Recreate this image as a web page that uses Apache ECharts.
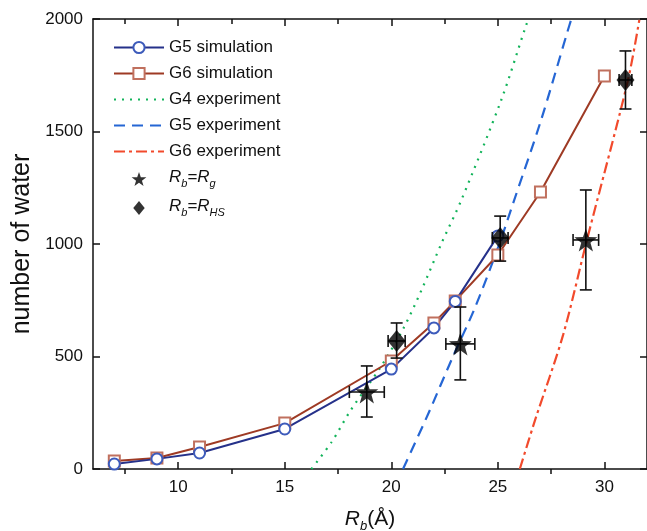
<!DOCTYPE html>
<html>
<head>
<meta charset="utf-8">
<script src="https://cdn.jsdelivr.net/npm/echarts@6/dist/echarts.min.js"></script>
<style>
  html, body { margin: 0; padding: 0; background: #fff; }
  #chart { width: 647px; height: 531px; }
</style>
</head>
<body>
<div id="chart"></div>
<script>
// simulation curves
const g5SimX = [7, 9, 11, 15, 20, 22, 23, 25];
const g5SimY = [22, 45, 71, 178, 444, 627, 745, 1036];
const g6SimX = [7, 9, 11, 15, 20, 22, 23, 25, 27, 30];
const g6SimY = [36, 49, 98, 204, 480, 649, 747, 951, 1231, 1747];

// experiment curves
const g4ExpX = [16.25, 17.2, 18.1, 19.5, 20.58, 21.42, 22.36, 23.29, 25.16, 26.33, 26.45];
const g4ExpY = [0, 120, 262, 453, 627, 796, 1004, 1196, 1640, 1973, 2000];
const g5ExpX = [20.55, 21.75, 22.82, 23.94, 25.02, 25.72, 27.03, 28.29, 28.45];
const g5ExpY = [0, 249, 484, 720, 987, 1182, 1551, 1951, 2000];
const g6ExpX = [26.03, 26.75, 28.06, 29.2, 31.09, 31.64];
const g6ExpY = [0, 218, 595, 1025, 1721, 1996];

// Rb = Rg points with error bars
const rgX = [18.85, 23.24, 29.13];
const rgY = [342, 556, 1018];
const rgXErr = [0.82, 0.68, 0.6];
const rgYLo = [231, 396, 796];
const rgYHi = [458, 720, 1240];

// Rb = RHS points with error bars
const rhsX = [20.25, 25.11, 30.99];
const rhsY = [569, 1027, 1729];
const rhsXErr = [0.4, 0.37, 0.3];
const rhsYLo = [493, 924, 1600];
const rhsYHi = [649, 1124, 1858];

const xTicks = [10, 15, 20, 25, 30];
const xMinorTicks = [7.5, 12.5, 17.5, 22.5, 27.5];
const yTicks = [0, 500, 1000, 1500, 2000];

const FONT = 'Liberation Sans';
const zip = (xs, ys) => xs.map((x, i) => [x, ys[i]]);

const errData = [
  ...rgX.map((x, i) => [x, rgY[i], rgXErr[i], rgYLo[i], rgYHi[i]]),
  ...rhsX.map((x, i) => [x, rhsY[i], rhsXErr[i], rhsYLo[i], rhsYHi[i]])
];

const renderErr = (params, api) => {
  const x = api.value(0), y = api.value(1), xe = api.value(2);
  const lo = api.coord([x, api.value(3)]);
  const hi = api.coord([x, api.value(4)]);
  const l = api.coord([x - xe, y]);
  const r = api.coord([x + xe, y]);
  const c = 6;
  const st = { stroke: '#111', lineWidth: 1.6 };
  const seg = (x1, y1, x2, y2) => ({ type: 'line', shape: { x1, y1, x2, y2 }, style: st });
  return {
    type: 'group',
    children: [
      seg(lo[0], lo[1], hi[0], hi[1]),
      seg(lo[0] - c, lo[1], lo[0] + c, lo[1]),
      seg(hi[0] - c, hi[1], hi[0] + c, hi[1]),
      seg(l[0], l[1], r[0], r[1]),
      seg(l[0], l[1] - c, l[0], l[1] + c),
      seg(r[0], r[1] - c, r[0], r[1] + c)
    ]
  };
};

const tickStyle = { color: '#111', width: 1.5 };
const xBase = { type: 'value', min: 6, max: 32, splitLine: { show: false } };
const xAxes = [
  { // bottom, major ticks + labels
    ...xBase,
    axisLine: { lineStyle: tickStyle },
    axisTick: { inside: true, length: 7, lineStyle: tickStyle, customValues: xTicks },
    axisLabel: { fontFamily: FONT, fontSize: 17, color: '#111', margin: 10, customValues: xTicks },
    name: '{i|R}{s|b}{t|(Å)}',
    nameLocation: 'middle', nameGap: 40,
    nameTextStyle: {
      rich: {
        i: { fontFamily: FONT, fontSize: 21, fontStyle: 'italic', color: '#111', lineHeight: 24, verticalAlign: 'top' },
        t: { fontFamily: FONT, fontSize: 21, color: '#111', lineHeight: 24, verticalAlign: 'top' },
        s: { fontFamily: FONT, fontSize: 13, fontStyle: 'italic', color: '#111', lineHeight: 14, verticalAlign: 'bottom' }
      }
    }
  },
  { // bottom, minor ticks
    ...xBase,
    axisLine: { show: false },
    axisTick: { inside: true, length: 5, lineStyle: tickStyle, customValues: xMinorTicks },
    axisLabel: { show: false }
  },
  { // top, major ticks
    ...xBase, position: 'top',
    axisLine: { lineStyle: tickStyle },
    axisTick: { inside: true, length: 7, lineStyle: tickStyle, customValues: xTicks },
    axisLabel: { show: false }
  },
  { // top, minor ticks
    ...xBase, position: 'top',
    axisLine: { show: false },
    axisTick: { inside: true, length: 5, lineStyle: tickStyle, customValues: xMinorTicks },
    axisLabel: { show: false }
  }
];

const yBase = {
  type: 'value', min: 0, max: 2000, interval: 500,
  splitLine: { show: false },
  axisLine: { lineStyle: tickStyle },
  axisTick: { inside: true, length: 7, lineStyle: tickStyle }
};

const chart = echarts.init(document.getElementById('chart'));

chart.setOption({
  animation: false,
  backgroundColor: '#fff',
  textStyle: { fontFamily: FONT },
  grid: { left: 93, right: 0, top: 19, bottom: 62, outerBoundsMode: 'none', containLabel: false },
  legend: {
    left: 108, top: 34, orient: 'vertical',
    itemWidth: 50, itemHeight: 14, itemGap: 9,
    textStyle: {
      fontFamily: FONT, fontSize: 17, color: '#111',
      rich: {
        i: { fontFamily: FONT, fontSize: 17, fontStyle: 'italic', color: '#111', lineHeight: 20, verticalAlign: 'top' },
        t: { fontFamily: FONT, fontSize: 17, color: '#111', lineHeight: 20, verticalAlign: 'top' },
        s: { fontFamily: FONT, fontSize: 11, fontStyle: 'italic', color: '#111', lineHeight: 12, verticalAlign: 'bottom' }
      }
    },
    formatter: name => {
      if (name === 'Rb=Rg') return '{i|R}{s|b}{t|=}{i|R}{s|g}';
      if (name === 'Rb=RHS') return '{i|R}{s|b}{t|=}{i|R}{s|HS}';
      return name;
    },
    data: [
      'G5 simulation', 'G6 simulation',
      { name: 'G4 experiment', itemStyle: { opacity: 0 } },
      { name: 'G5 experiment', itemStyle: { opacity: 0 } },
      { name: 'G6 experiment', itemStyle: { opacity: 0 } },
      'Rb=Rg', 'Rb=RHS'
    ]
  },
  xAxis: xAxes,
  yAxis: [{
    ...yBase,
    axisLabel: {
      fontFamily: FONT, fontSize: 17, color: '#111', margin: 10,
      formatter: v => (yTicks.includes(v) ? String(v) : '')
    },
    name: 'number of water',
    nameLocation: 'middle', nameGap: 57,
    nameTextStyle: { fontFamily: FONT, fontSize: 25, color: '#111' }
  }, {
    ...yBase, position: 'right',
    axisLabel: { show: false }
  }],
  series: [
    {
      name: 'G4 experiment', type: 'line', data: zip(g4ExpX, g4ExpY),
      smooth: 0.3, showSymbol: false, symbol: 'none',
      lineStyle: { color: '#12b35a', width: 2.2, type: [2, 6] },
      itemStyle: { color: '#12b35a' }
    },
    {
      name: 'G5 experiment', type: 'line', data: zip(g5ExpX, g5ExpY),
      smooth: 0.3, showSymbol: false, symbol: 'none',
      lineStyle: { color: '#2566d4', width: 2.2, type: [11, 7] },
      itemStyle: { color: '#2566d4' }
    },
    {
      name: 'G6 experiment', type: 'line', data: zip(g6ExpX, g6ExpY),
      smooth: 0.3, showSymbol: false, symbol: 'none',
      lineStyle: { color: '#f24a2c', width: 2.2, type: [11, 4, 3, 4] },
      itemStyle: { color: '#f24a2c' }
    },
    {
      name: 'G6 simulation', type: 'line', data: zip(g6SimX, g6SimY),
      symbol: 'emptyRect', symbolSize: 11,
      lineStyle: { color: '#9e3a24', width: 2 },
      itemStyle: { color: '#c0705e', borderWidth: 1.5 }
    },
    {
      name: 'G5 simulation', type: 'line', data: zip(g5SimX, g5SimY),
      symbol: 'emptyCircle', symbolSize: 11,
      lineStyle: { color: '#25318a', width: 2 },
      itemStyle: { color: '#3d5bbb', borderWidth: 1.5 }
    },
    {
      name: 'errors', type: 'custom', data: errData, renderItem: renderErr,
      encode: { x: 0, y: 1 }, z: 5
    },
    {
      name: 'Rb=Rg', type: 'scatter', data: zip(rgX, rgY),
      symbol: 'path://M0,-10 L2.35,-3.24 L9.51,-3.09 L3.8,1.24 L5.88,8.09 L0,4 L-5.88,8.09 L-3.8,1.24 L-9.51,-3.09 L-2.35,-3.24 Z',
      symbolSize: 23, itemStyle: { color: '#000' }, z: 6
    },
    {
      name: 'Rb=RHS', type: 'scatter', data: zip(rhsX, rhsY),
      symbol: 'path://M0,-11 L9,0 L0,11 L-9,0 Z',
      symbolSize: [18, 22], itemStyle: { color: '#000' }, z: 6
    }
  ]
});
</script>
</body>
</html>
